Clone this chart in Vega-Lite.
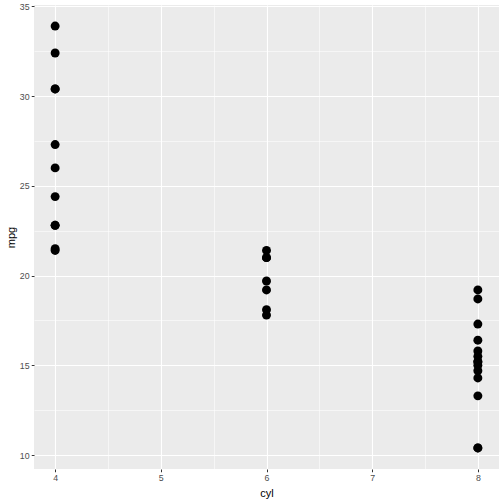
{
  "$schema": "https://vega.github.io/schema/vega-lite/v6.json",
  "width": 465,
  "height": 464,
  "autosize": {"type": "none"},
  "padding": {"left": 34, "top": 5, "right": 5, "bottom": 35},
  "background": "white",
  "config": {
    "view": {"fill": "#EBEBEB", "stroke": null},
    "axis": {
      "labelFont": "Liberation Sans",
      "titleFont": "Liberation Sans",
      "labelFontSize": 8.8,
      "labelColor": "#4D4D4D",
      "titleFontSize": 11,
      "titleFontWeight": "normal",
      "titleColor": "#000000",
      "domain": false,
      "tickColor": "#333333",
      "tickSize": 2.75,
      "tickWidth": 1,
      "labelPadding": 2.2,
      "gridColor": "#FFFFFF"
    }
  },
  "data": {
    "values": [
      {"cyl": 6, "mpg": 21.0}, {"cyl": 6, "mpg": 21.0}, {"cyl": 4, "mpg": 22.8}, {"cyl": 6, "mpg": 21.4},
      {"cyl": 8, "mpg": 18.7}, {"cyl": 6, "mpg": 18.1}, {"cyl": 8, "mpg": 14.3}, {"cyl": 4, "mpg": 24.4},
      {"cyl": 4, "mpg": 22.8}, {"cyl": 6, "mpg": 19.2}, {"cyl": 6, "mpg": 17.8}, {"cyl": 8, "mpg": 16.4},
      {"cyl": 8, "mpg": 17.3}, {"cyl": 8, "mpg": 15.2}, {"cyl": 8, "mpg": 10.4}, {"cyl": 8, "mpg": 10.4},
      {"cyl": 8, "mpg": 14.7}, {"cyl": 4, "mpg": 32.4}, {"cyl": 4, "mpg": 30.4}, {"cyl": 4, "mpg": 33.9},
      {"cyl": 4, "mpg": 21.5}, {"cyl": 8, "mpg": 15.5}, {"cyl": 8, "mpg": 15.2}, {"cyl": 8, "mpg": 13.3},
      {"cyl": 8, "mpg": 19.2}, {"cyl": 4, "mpg": 27.3}, {"cyl": 4, "mpg": 26.0}, {"cyl": 4, "mpg": 30.4},
      {"cyl": 8, "mpg": 15.8}, {"cyl": 6, "mpg": 19.7}, {"cyl": 8, "mpg": 15.0}, {"cyl": 4, "mpg": 21.4}
    ]
  },
  "resolve": {"axis": {"x": "independent", "y": "independent"}},
  "layer": [
    {
      "mark": {"type": "point", "opacity": 0},
      "encoding": {
        "x": {"field": "cyl", "type": "quantitative",
              "scale": {"domain": [3.8, 8.2], "nice": false, "zero": false},
              "axis": {"orient": "top", "values": [4.5, 5.5, 6.5, 7.5], "grid": true, "gridWidth": 0.55,
                       "labels": false, "ticks": false, "title": null}},
        "y": {"field": "mpg", "type": "quantitative",
              "scale": {"domain": [9.225, 35.075], "nice": false, "zero": false},
              "axis": {"orient": "right", "values": [12.5, 17.5, 22.5, 27.5, 32.5], "grid": true, "gridWidth": 0.55,
                       "labels": false, "ticks": false, "title": null}}
      }
    },
    {
      "mark": {"type": "circle", "color": "#000000", "opacity": 1, "size": 80},
      "encoding": {
        "x": {"field": "cyl", "type": "quantitative", "title": "cyl",
              "scale": {"domain": [3.8, 8.2], "nice": false, "zero": false},
              "axis": {"values": [4, 5, 6, 7, 8], "grid": true, "gridWidth": 1.1, "titlePadding": 5}},
        "y": {"field": "mpg", "type": "quantitative", "title": "mpg",
              "scale": {"domain": [9.225, 35.075], "nice": false, "zero": false},
              "axis": {"values": [10, 15, 20, 25, 30, 35], "grid": true, "gridWidth": 1.1, "titlePadding": 3}}
      }
    }
  ]
}
